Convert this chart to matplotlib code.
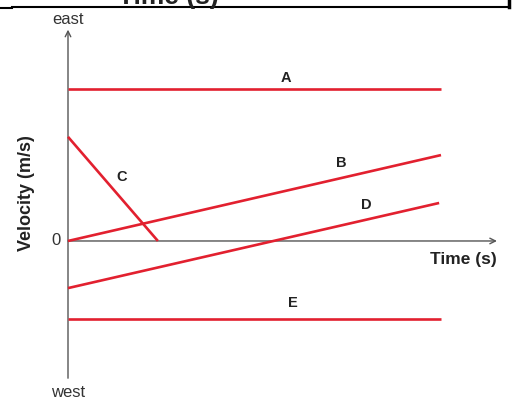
import matplotlib
matplotlib.use('Agg')
import matplotlib.pyplot as plt

plt.rcParams['font.family'] = ['Liberation Sans', 'DejaVu Sans']

# lines as (label, t_start, v_start, t_end, v_end)
labels = ['A', 'B', 'C', 'D', 'E']
t_start = [0.0, 0.0, 0.0, 0.0, 0.0]
v_start = [4.0, 0.0, 2.74, -1.24, -2.05]
t_end = [10.0, 10.0, 2.41, 9.95, 10.0]
v_end = [4.0, 2.26, 0.0, 1.0, -2.05]
# label anchor positions (t, v)
label_t = [5.84, 7.32, 1.45, 7.99, 6.03]
label_v = [4.29, 2.06, 1.68, 0.95, -1.64]

RED = '#e2202f'
GRAY = '#555555'

fig = plt.figure(figsize=(5.13, 4.01), dpi=100)
ax = fig.add_axes([0, 0, 1, 1])
ax.set_xlim(-1.823, 11.93)
ax.set_ylim(-4.21, 6.34)
ax.axis('off')

# axes with arrows
ax.annotate('', xy=(0, 5.56), xytext=(0, -3.61),
            arrowprops=dict(arrowstyle='->', color=GRAY, lw=1.0, shrinkA=0, shrinkB=0))
ax.annotate('', xy=(11.5, 0), xytext=(0, 0),
            arrowprops=dict(arrowstyle='->', color=GRAY, lw=1.0, shrinkA=0, shrinkB=0))

for i, lab in enumerate(labels):
    ax.plot([t_start[i], t_end[i]], [v_start[i], v_end[i]], color=RED, lw=1.9,
            solid_capstyle='butt', zorder=3)
    ax.text(label_t[i], label_v[i], lab, ha='center', va='center',
            fontsize=10.5, fontweight='bold', color='#222222')

ax.text(0, 5.84, 'east', ha='center', va='center', fontsize=12, color='#333333')
ax.text(0, -3.98, 'west', ha='center', va='center', fontsize=12, color='#333333')
ax.text(-0.33, 0, '0', ha='center', va='center', fontsize=12, color='#333333')
ax.text(10.6, -0.5, 'Time (s)', ha='center', va='center', fontsize=12.5,
        fontweight='bold', color='#222222')
ax.text(-1.1, 1.25, 'Velocity (m/s)', ha='center', va='center', rotation=90,
        fontsize=13, fontweight='bold', color='#222222')

# remnant of the box above
fig.add_artist(plt.Line2D([0.0, 12 / 513], [1 - 8 / 401, 1 - 8 / 401],
                          transform=fig.transFigure, color='black', lw=1.5))
fig.add_artist(plt.Line2D([12 / 513, 509 / 513], [1 - 7 / 401, 1 - 7 / 401],
                          transform=fig.transFigure, color='black', lw=1.5))
fig.add_artist(plt.Line2D([509 / 513, 509 / 513], [1 - 7 / 401, 1.0],
                          transform=fig.transFigure, color='black', lw=2.5))
fig.text(168 / 513, 1 - 4 / 401, 'Time (s)', ha='center', va='baseline',
         fontsize=19, fontweight='bold', color='#222222')

fig.savefig('out.png', dpi=100)
